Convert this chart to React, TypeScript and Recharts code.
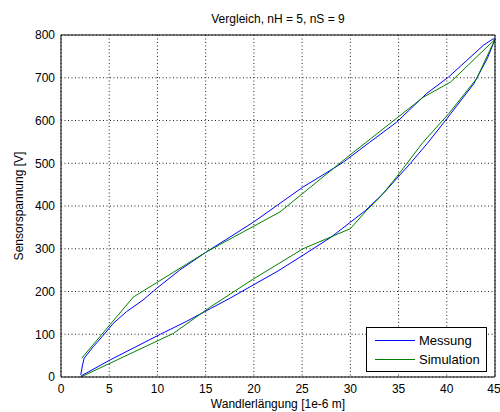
import React from 'react'
import { LineChart, Line, XAxis, YAxis, CartesianGrid, Legend } from 'recharts'

// Hysterese-Schleifen: erst ansteigender Ast, dann abfallender Ast
const messungX = [2.05, 5.1, 10.3, 13, 15.5, 17.5, 19.6, 22.5, 25.1, 28, 30, 31.6, 33.4, 36.2, 38, 40, 42.8, 44.2, 45,
  44.8, 43.8, 42, 40.2, 37.9, 34.8, 32, 29.3, 27.9, 25, 22.5, 20, 17.5, 15.1, 12.3, 9.9, 8.5, 6.8, 5.4, 4.4, 3.35, 2.4, 2.25, 2.05]
const messungY = [2, 40, 100, 130, 160, 184, 211, 248, 285, 327, 362, 390, 429, 499, 547, 604, 686, 745, 790,
  791, 776, 739, 702, 663, 596, 549, 503, 483, 443, 403, 363, 327, 293, 250, 207, 180, 153, 125, 98, 71, 44, 30, 5]

const simulationX = [2.05, 11.65, 15.5, 20, 25.1, 30, 31.7, 33.1, 34.8, 37.5, 40.2, 43.1, 45,
  40.4, 37.6, 30, 22.7, 15.1, 7.5, 2.15]
const simulationY = [0, 102, 164, 230, 300, 347, 390, 421, 468, 548, 616, 698, 790,
  690, 655, 520, 386, 293, 187, 44]

const xTicks = [0, 5, 10, 15, 20, 25, 30, 35, 40, 45]
const yTicks = [0, 100, 200, 300, 400, 500, 600, 700, 800]

const toPoints = (xs: number[], ys: number[]) => xs.map((x, i) => ({ x, y: ys[i] }))
const messung = toPoints(messungX, messungY)
const simulation = toPoints(simulationX, simulationY)

const FONT = '"Liberation Sans", Arial, sans-serif'
const blank = () => ''

function LegendBox() {
  const row = (color: string, label: string) => (
    <div style={{ display: 'flex', alignItems: 'center', height: 19 }}>
      <div style={{ width: 40, height: 0, borderTop: `1px solid ${color}`, marginLeft: 8, marginRight: 4 }} />
      <span style={{ fontSize: 13, color: '#000' }}>{label}</span>
    </div>
  )
  return (
    <div style={{ width: 119, height: 40, border: '1px solid #000', background: '#fff', paddingTop: 3, boxSizing: 'content-box', fontFamily: FONT }}>
      {row('#0000ff', 'Messung')}
      {row('#008000', 'Simulation')}
    </div>
  )
}

export default function App() {
  return (
    <div style={{ position: 'absolute', left: 0, top: 0, width: 500, height: 412, background: '#fff', fontFamily: FONT }}>
      <div style={{ position: 'absolute', left: 61, width: 434, top: 12, textAlign: 'center', fontSize: 12, color: '#000' }}>
        Vergleich, nH = 5, nS = 9
      </div>
      <div style={{ position: 'absolute', left: 19, top: 206, transform: 'translate(-50%, -50%) rotate(-90deg)', whiteSpace: 'nowrap', fontSize: 12, color: '#000' }}>
        Sensorspannung [V]
      </div>
      <LineChart width={500} height={412} margin={{ top: 35, right: 5, bottom: 0, left: 0 }}>
        <CartesianGrid stroke="#222" strokeDasharray="1 2.5" xAxisId={0} yAxisId={0} />
        <XAxis xAxisId={0} type="number" dataKey="x" domain={[0, 45]} ticks={xTicks} height={35}
          axisLine={{ stroke: '#000' }} tickLine={false} tickSize={0} tickMargin={7}
          tick={{ fill: '#000', fontSize: 12 }}
          label={{ value: 'Wandlerlängung [1e-6 m]', position: 'insideBottom', offset: 4, fill: '#000', fontSize: 12 }} />
        <XAxis xAxisId="bt" type="number" dataKey="x" domain={[0, 45]} ticks={xTicks} mirror
          axisLine={false} tickLine={{ stroke: '#000' }} tickSize={4} tickFormatter={blank} />
        <XAxis xAxisId="top" orientation="top" type="number" dataKey="x" domain={[0, 45]} ticks={xTicks} mirror
          axisLine={{ stroke: '#000' }} tickLine={{ stroke: '#000' }} tickSize={4} tickFormatter={blank} />
        <YAxis yAxisId={0} type="number" domain={[0, 800]} ticks={yTicks} width={61}
          axisLine={{ stroke: '#000' }} tickLine={false} tickSize={0} tickMargin={6}
          tick={{ fill: '#000', fontSize: 12 }} />
        <YAxis yAxisId="lm" type="number" domain={[0, 800]} ticks={yTicks} mirror
          axisLine={false} tickLine={{ stroke: '#000' }} tickSize={4} tickFormatter={blank} />
        <YAxis yAxisId="right" orientation="right" type="number" domain={[0, 800]} ticks={yTicks} mirror
          axisLine={{ stroke: '#000' }} tickLine={{ stroke: '#000' }} tickSize={4} tickFormatter={blank} />
        <Line data={messung} dataKey="y" xAxisId={0} yAxisId={0} type="linear" stroke="#0000ff" strokeWidth={1}
          dot={false} isAnimationActive={false} name="Messung" />
        <Line data={simulation} dataKey="y" xAxisId={0} yAxisId={0} type="linear" stroke="#008000" strokeWidth={1}
          dot={false} isAnimationActive={false} name="Simulation" />
        <Legend layout="vertical" align="center" verticalAlign="middle" content={() => <LegendBox />}
          wrapperStyle={{ position: 'absolute', left: 366, top: 327, width: 121, height: 43 }} />
      </LineChart>
    </div>
  )
}
